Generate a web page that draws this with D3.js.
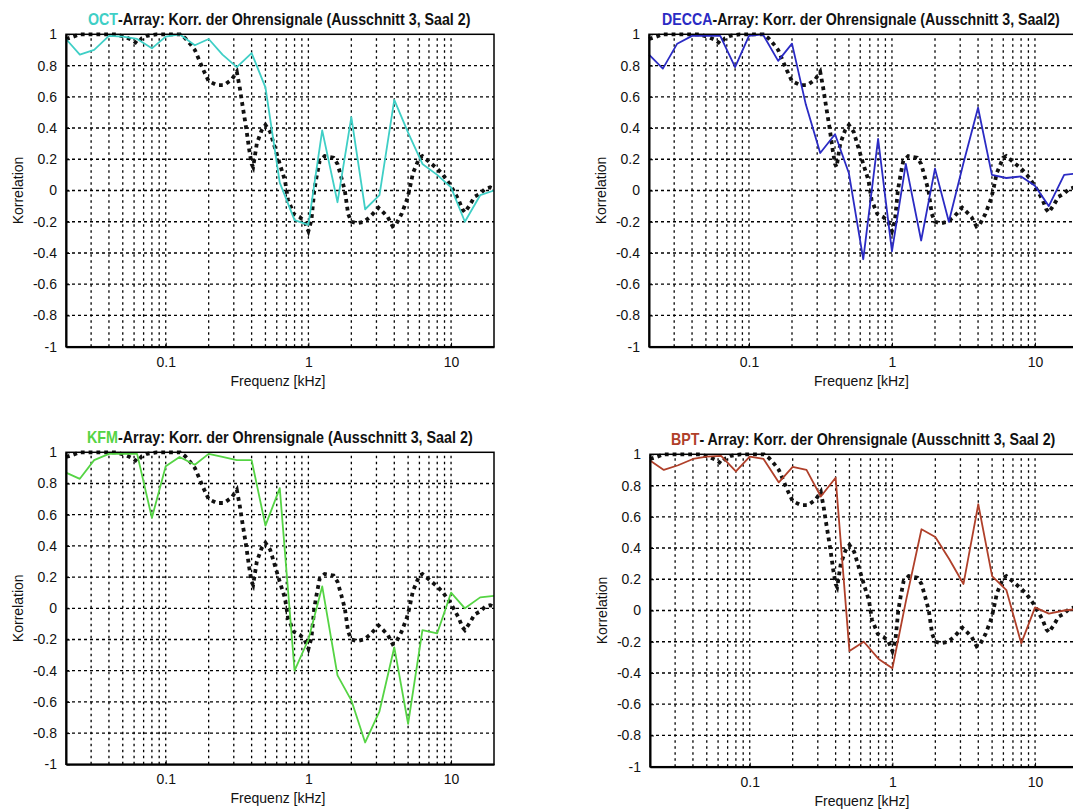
<!DOCTYPE html>
<html>
<head>
<meta charset="utf-8">
<script src="https://cdn.jsdelivr.net/npm/d3@7"></script>
<style>
  body { margin: 0; background: #fff; }
  svg { display: block; font-family: "Liberation Sans", Arial, sans-serif; }
</style>
</head>
<body>
<svg id="chart" width="1073" height="812"></svg>
<script>
// third-octave band centres in kHz
const freqs = [0.02, 0.025, 0.0315, 0.04, 0.05, 0.063, 0.08, 0.1, 0.125, 0.16, 0.2, 0.25, 0.315, 0.4, 0.5,
  0.63, 0.8, 1, 1.25, 1.6, 2, 2.5, 3.15, 4, 5, 6.3, 8, 10, 12.5, 16, 20];

const octVals = [0.97, 0.87, 0.9, 0.99, 0.985, 0.97, 0.91, 0.985, 1.0, 0.93, 0.97, 0.87, 0.79, 0.88, 0.66,
  0.05, -0.19, -0.22, 0.385, -0.075, 0.47, -0.12, -0.03, 0.58, 0.37, 0.17, 0.1, 0.02, -0.2, -0.03, 0.0];
const deccaVals = [0.87, 0.78, 0.94, 0.99, 0.99, 0.99, 0.79, 0.99, 1.0, 0.83, 0.94, 0.55, 0.24, 0.36, 0.11,
  -0.44, 0.33, -0.39, 0.17, -0.32, 0.14, -0.2, 0.17, 0.53, 0.1, 0.08, 0.09, 0.03, -0.1, 0.1, 0.11];
const kfmVals = [0.87, 0.83, 0.95, 0.99, 0.99, 0.99, 0.58, 0.91, 0.97, 0.92, 0.99, 0.97, 0.95, 0.95, 0.53,
  0.77, -0.4, -0.2, 0.14, -0.43, -0.59, -0.86, -0.66, -0.25, -0.74, -0.14, -0.16, 0.1, 0.0, 0.07, 0.08];
const bptVals = [0.96, 0.9, 0.93, 0.97, 0.985, 0.99, 0.89, 0.985, 0.97, 0.82, 0.92, 0.9, 0.73, 0.85, -0.26,
  -0.2, -0.31, -0.37, 0.07, 0.52, 0.47, 0.33, 0.17, 0.68, 0.22, 0.13, -0.21, 0.02, -0.02, 0.0, 0.01];

// dotted reference curve (same in every panel), read at finer spacing
const refFreqs = [0.02, 0.0225, 0.025, 0.045, 0.053, 0.059, 0.063, 0.068, 0.074, 0.086, 0.126, 0.137, 0.148,
  0.16, 0.184, 0.2, 0.228, 0.256, 0.29, 0.315, 0.33, 0.346, 0.365, 0.385, 0.4, 0.41, 0.435, 0.47, 0.5, 0.54,
  0.58, 0.63, 0.685, 0.72, 0.79, 0.87, 0.94, 1.0, 1.05, 1.1, 1.14, 1.2, 1.3, 1.5, 1.6, 1.7, 1.8, 1.9, 2.0,
  2.2, 2.45, 2.7, 3.1, 3.35, 3.6, 3.9, 4.1, 4.5, 4.9, 5.1, 5.4, 6.0, 6.3, 7.1, 8.0, 8.8, 9.8, 10.4, 11.3,
  12.0, 12.5, 13.6, 14.6, 16.0, 17.3, 18.8, 20];
const refVals = [0.97, 0.985, 1.0, 1.0, 0.98, 0.96, 0.94, 0.975, 0.99, 1.0, 1.0, 0.975, 0.94,
  0.9, 0.77, 0.7, 0.675, 0.675, 0.71, 0.76, 0.66, 0.54, 0.41, 0.26, 0.17, 0.15, 0.3, 0.385, 0.42, 0.375,
  0.28, 0.17, 0.065, -0.06, -0.15, -0.17, -0.2, -0.26, -0.19, 0.0, 0.085, 0.19, 0.22, 0.21, 0.17, 0.085, 0.0, -0.15, -0.2,
  -0.21, -0.2, -0.17, -0.11, -0.14, -0.17, -0.23, -0.22, -0.15, -0.06, 0.0, 0.11, 0.21, 0.22, 0.18, 0.14, 0.1, 0.04, 0.0, -0.06,
  -0.12, -0.14, -0.09, -0.04, -0.02, 0.01, 0.02, 0.01];

const yTicks = [1, 0.8, 0.6, 0.4, 0.2, 0, -0.2, -0.4, -0.6, -0.8, -1];
const xTicks = [0.1, 1, 10];
const yTickLabels = ["1", "0.8", "0.6", "0.4", "0.2", "0", "-0.2", "-0.4", "-0.6", "-0.8", "-1"];
const xTickLabels = ["0.1", "1", "10"];

const panels = [
  { name: "OCT", rest: "-Array: Korr. der Ohrensignale (Ausschnitt 3, Saal 2)", color: "#3fcfc6", values: octVals,
    left: 66, top: 34.3, width: 428, height: 312.4, titleX: 279, titleW: 382 },
  { name: "DECCA", rest: "-Array: Korr. der Ohrensignale (Ausschnitt 3, Saal2)", color: "#2b2bc4", values: deccaVals,
    left: 649, top: 34.3, width: 429, height: 312.4, titleX: 861, titleW: 398 },
  { name: "KFM", rest: "-Array: Korr. der Ohrensignale (Ausschnitt 3, Saal 2)", color: "#55d444", values: kfmVals,
    left: 66, top: 452.3, width: 428, height: 312, titleX: 280, titleW: 386 },
  { name: "BPT", rest: "- Array: Korr. der Ohrensignale (Ausschnitt 3, Saal 2)", color: "#b0402a", values: bptVals,
    left: 650, top: 454.3, width: 428, height: 312.4, titleX: 863, titleW: 384 }
];

const svg = d3.select("#chart");

// minor/major log grid positions between 0.02 and 20
const gridX = [];
[0.01, 0.1, 1, 10].forEach(dec => {
  for (let m = 1; m <= 9; m++) {
    const v = +(dec * m).toPrecision(3);
    if (v > 0.02 && v < 20) gridX.push(v);
  }
});

panels.forEach(drawPanel);

function drawPanel(p) {
  const g = svg.append("g");
  const x = d3.scaleLog().domain([0.02, 20]).range([p.left, p.left + p.width]);
  const y = d3.scaleLinear().domain([-1, 1]).range([p.top + p.height, p.top]);

  // grid
  g.append("g").selectAll("line")
    .data(gridX)
    .join("line")
    .attr("x1", d => x(d)).attr("x2", d => x(d))
    .attr("y1", y(-1)).attr("y2", y(1))
    .attr("stroke", "#000").attr("stroke-width", 1.3)
    .attr("stroke-dasharray", "2.5,3.5");

  g.append("g").selectAll("line")
    .data(yTicks.filter(d => d > -1 && d < 1))
    .join("line")
    .attr("x1", x(0.02)).attr("x2", x(20))
    .attr("y1", d => y(d)).attr("y2", d => y(d))
    .attr("stroke", "#000").attr("stroke-width", 1.3)
    .attr("stroke-dasharray", "3,3");

  // reference dotted curve
  const line = d3.line().x(d => x(d[0])).y(d => y(d[1]));
  g.append("path")
    .datum(d3.zip(refFreqs, refVals))
    .attr("d", line)
    .attr("fill", "none")
    .attr("stroke", "#111")
    .attr("stroke-width", 3.8)
    .attr("stroke-dasharray", "3.8,4");

  // array curve
  g.append("path")
    .datum(d3.zip(freqs, p.values))
    .attr("d", line)
    .attr("fill", "none")
    .attr("stroke", p.color)
    .attr("stroke-width", 1.8)
    .attr("stroke-linejoin", "round");

  // box
  g.append("rect")
    .attr("x", x(0.02)).attr("y", y(1))
    .attr("width", x(20) - x(0.02)).attr("height", y(-1) - y(1))
    .attr("fill", "none").attr("stroke", "#000").attr("stroke-width", 1.5);

  // axes
  const ay = g.append("g")
    .attr("transform", `translate(${x(0.02)},0)`)
    .call(d3.axisLeft(y).tickValues(yTicks).tickFormat((d, i) => yTickLabels[i])
      .tickSizeInner(-4).tickSizeOuter(0).tickPadding(9));
  const ax = g.append("g")
    .attr("transform", `translate(0,${y(-1)})`)
    .call(d3.axisBottom(x).tickValues(xTicks).tickFormat((d, i) => xTickLabels[i])
      .tickSizeInner(-4).tickSizeOuter(0).tickPadding(10));
  [ay, ax].forEach(a => {
    a.attr("font-family", null).attr("font-size", 14);
    a.select(".domain").attr("stroke-width", 2);
    a.selectAll("text").attr("fill", "#111");
  });

  // title: squeezed horizontally like the narrow original font
  const tg = g.append("g");
  const title = tg.append("text")
    .attr("x", 0).attr("y", 0)
    .attr("font-size", 16).attr("font-weight", "bold");
  title.append("tspan").attr("fill", p.color).text(p.name);
  title.append("tspan").attr("fill", "#111").text(p.rest);
  const sx = p.titleW / title.node().getComputedTextLength();
  tg.attr("transform", `translate(${p.titleX - p.titleW / 2},${p.top - 9}) scale(${sx},1)`);

  const cx = (x(0.02) + x(20)) / 2;
  g.append("text")
    .attr("x", cx - 2).attr("y", y(-1) + 39)
    .attr("text-anchor", "middle")
    .attr("font-size", 14).attr("fill", "#111")
    .text("Frequenz [kHz]");

  g.append("text")
    .attr("transform", `translate(${p.left - 43},${p.top + p.height / 2}) rotate(-90)`)
    .attr("text-anchor", "middle")
    .attr("font-size", 14).attr("fill", "#111")
    .text("Korrelation");
}
</script>
</body>
</html>
